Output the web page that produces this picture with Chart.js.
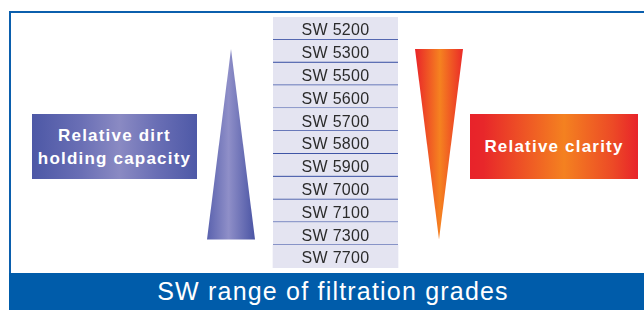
<!DOCTYPE html>
<html>
<head>
<meta charset="utf-8">
<script src="https://cdn.jsdelivr.net/npm/chart.js@4.4.1/dist/chart.umd.min.js"></script>
<style>
  html, body { margin: 0; padding: 0; background: #fff; }
  #wrap { position: relative; width: 644px; height: 310px; overflow: hidden; font-family: "Liberation Sans", Arial, sans-serif; }
  #chart { position: absolute; left: 0; top: 0; }
  .rule { position: absolute; background: #0b5fad; }
  .box { position: absolute; display: flex; flex-direction: column; align-items: center; justify-content: center;
         color: #fff; font-weight: bold; font-size: 17px; letter-spacing: 1.2px; line-height: 23px; }
  #titleBar { position: absolute; left: 9px; top: 273px; width: 635px; height: 37px; background: #005caa;
              color: #fff; font-size: 25px; letter-spacing: 1.2px; line-height: 37px; text-align: center;
              padding-left: 13px; box-sizing: border-box; }
</style>
</head>
<body>
<div id="wrap">
  <div class="rule" style="left:9px;top:11px;width:635px;height:2px"></div>
  <div class="rule" style="left:9px;top:11px;width:2px;height:263px"></div>
  <canvas id="chart" width="644" height="310"></canvas>
  <div class="box" id="capBox" style="left:32px;top:114px;width:165px;height:65px;
       background:linear-gradient(90deg,#4d58a6 0%,#6a6fb5 30%,#8a8ac3 53%,#6a6fb5 75%,#4e59a7 100%)"></div>
  <div class="box" id="clarBox" style="left:470px;top:114px;width:168px;height:65px;
       background:linear-gradient(90deg,#e8232a 0%,#e8272a 8%,#f48120 56%,#ec4a26 85%,#e8232a 100%)"></div>
  <div id="titleBar"></div>
</div>
<script>
// filtration grades, top to bottom
var grades = ['SW 5200', 'SW 5300', 'SW 5500', 'SW 5600', 'SW 5700', 'SW 5800',
              'SW 5900', 'SW 7000', 'SW 7100', 'SW 7300', 'SW 7700'];
// relative level at the top and at the bottom of the wedges
var wedgeStops = [0, 1];
var dirtCapacity = [0, 1];   // grows towards the coarse grades
var clarity = [1, 0];        // shrinks towards the coarse grades
var capacityText = ['Relative dirt', 'holding capacity'];
var clarityText = ['Relative clarity'];
var title = 'SW range of filtration grades';

// layout (pixels)
var W = 644, H = 310;
var AREA_TOP = 17, AREA_BOTTOM = 268;
var TABLE_LEFT = 273, TABLE_RIGHT = 398;
var WEDGE_TOP = 49, WEDGE_BOTTOM = 239.5, WEDGE_HALF = 24;
var CAP_X = 231, CLAR_X = 439;

var unit = WEDGE_BOTTOM - WEDGE_TOP;
var wMin = -(WEDGE_TOP - AREA_TOP) / unit;
var wMax = wMin + (AREA_BOTTOM - AREA_TOP) / unit;

function wedge(levels, cx) {
  var left = wedgeStops.map(function (s, i) { return {x: cx - levels[i] * WEDGE_HALF, y: s}; });
  var right = wedgeStops.map(function (s, i) { return {x: cx + levels[i] * WEDGE_HALF, y: s}; }).reverse();
  return left.concat(right);
}

function hGradient(cx, stops) {
  return function (c) {
    var chart = c.chart;
    if (!chart.chartArea) return stops[0][1];
    var x = chart.scales.x;
    var g = chart.ctx.createLinearGradient(x.getPixelForValue(cx - WEDGE_HALF), 0, x.getPixelForValue(cx + WEDGE_HALF), 0);
    stops.forEach(function (s) { g.addColorStop(s[0], s[1]); });
    return g;
  };
}

var gradeLabels = {
  id: 'gradeLabels',
  afterDatasetsDraw: function (chart) {
    var ctx = chart.ctx, x = chart.scales.x, y = chart.scales.y;
    ctx.save();
    ctx.font = '16px "Liberation Sans", Arial, sans-serif';
    ctx.letterSpacing = '0.3px';
    ctx.fillStyle = '#2b2b2b';
    ctx.textAlign = 'center';
    ctx.textBaseline = 'middle';
    var cx = x.getPixelForValue((TABLE_LEFT + TABLE_RIGHT) / 2);
    grades.forEach(function (g, i) { ctx.fillText(g, cx, y.getPixelForValue(i) + 2.5); });
    ctx.restore();
  }
};

new Chart(document.getElementById('chart'), {
  type: 'bar',
  data: {
    labels: grades,
    datasets: [{
      type: 'bar',
      indexAxis: 'y',
      xAxisID: 'x',
      yAxisID: 'y',
      data: grades.map(function () { return [TABLE_LEFT, TABLE_RIGHT]; }),
      backgroundColor: '#e4e4f1',
      borderColor: '#3f55a6',
      borderSkipped: false,
      borderWidth: function (c) {
        return c.dataIndex < grades.length - 1 ? {top: 0, right: 0, bottom: 1.2, left: 0} : 0;
      },
      barPercentage: 1,
      categoryPercentage: 1
    }, {
      type: 'line',
      xAxisID: 'x',
      yAxisID: 'w',
      data: wedge(dirtCapacity, CAP_X),
      fill: 'shape',
      tension: 0,
      pointRadius: 0,
      borderWidth: 1,
      borderColor: 'transparent',
      backgroundColor: hGradient(CAP_X, [[0, '#5a62ae'], [0.45, '#8f8fc8'], [1, '#4a54a4']])
    }, {
      type: 'line',
      xAxisID: 'x',
      yAxisID: 'w',
      data: wedge(clarity, CLAR_X),
      fill: 'shape',
      tension: 0,
      pointRadius: 0,
      borderWidth: 1,
      borderColor: 'transparent',
      backgroundColor: hGradient(CLAR_X, [[0, '#e92429'], [0.52, '#f58220'], [1, '#ea2b28']])
    }]
  },
  options: {
    responsive: false,
    animation: false,
    layout: {padding: {top: AREA_TOP, bottom: H - AREA_BOTTOM, left: 0, right: 0}},
    plugins: {legend: {display: false}, tooltip: {enabled: false}},
    scales: {
      x: {type: 'linear', min: 0, max: W, display: false, offset: false, grid: {offset: false}},
      y: {type: 'category', display: false, offset: true},
      w: {type: 'linear', display: false, reverse: true, min: wMin, max: wMax, offset: false}
    }
  },
  plugins: [gradeLabels]
});

function fillBox(id, lines) {
  var box = document.getElementById(id);
  lines.forEach(function (t) {
    var d = document.createElement('div');
    d.textContent = t;
    box.appendChild(d);
  });
}
fillBox('capBox', capacityText);
fillBox('clarBox', clarityText);
document.getElementById('titleBar').textContent = title;
</script>
</body>
</html>
